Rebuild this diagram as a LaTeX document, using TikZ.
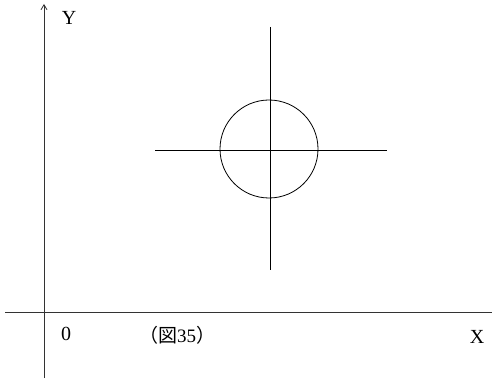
\documentclass[tikz,border=0pt]{standalone}
\usepackage{fontspec}
\setmainfont{Liberation Serif}
\newfontfamily\cjk{Noto Sans CJK JP}
\usetikzlibrary{arrows.meta}
\begin{document}
\begin{tikzpicture}[x=1pt,y=-1pt,
  axis/.style={line width=0.8pt,draw=black!80},
  guide/.style={line width=0.8pt},
  lbl/.style={font=\fontsize{20}{22}\selectfont,inner sep=0pt}]
\useasboundingbox (0,0) rectangle (492,379);
% axes
\coordinate (ybot) at (44,378);
\coordinate (ytop) at (44,4);
\coordinate (xl) at (5,312);
\coordinate (xr) at (492,312);
\draw[axis,-{Straight Barb[length=5pt,width=6pt]}] (ybot) -- (ytop);
\draw[axis] (xl) -- (xr);
% circle with center lines
\coordinate (c) at (269,149);
\coordinate (vt) at (270,27);
\coordinate (vb) at (270,270);
\coordinate (hl) at (155,150);
\coordinate (hr) at (387,150);
\draw[guide] (vt) -- (vb);
\draw[guide] (hl) -- (hr);
\draw[guide] (c) circle[radius=49];
% labels
\node[lbl] (ylab) at (69,18) {Y};
\node[lbl] (xlab) at (477,337) {X};
\node[lbl] (zero) at (66,334) {0};
\node[lbl,font=\fontsize{19}{21}\selectfont] (fig) at (177,335) {{\cjk （図}35{\cjk ）}};
\end{tikzpicture}
\end{document}
